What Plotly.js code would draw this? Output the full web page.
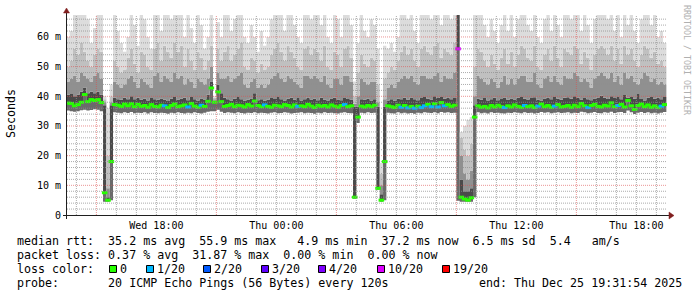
<!DOCTYPE html>
<html><head><meta charset="utf-8">
<script src="https://cdn.plot.ly/plotly-3.0.1.min.js"></script>
<style>html,body{margin:0;padding:0;background:#fff;}#chart{width:697px;height:297px;}</style>
</head><body><div id="chart"></div>
<script>
// ---- data: 10-minute bins starting Wed 2025-12-24 13:30 ----
const binMinutes = 10;
const rttMedian = [
37.7,37.6,36.8,37.2,38.0,40.6,38.2,38.9,38.6,38.9,
37.9,7.5,5.0,18.0,37.2,37.0,36.6,37.4,36.8,37.5,
36.5,37.3,36.6,36.9,36.3,37.2,36.6,36.4,37.0,36.8,
36.2,36.9,37.4,36.5,36.8,37.1,36.4,37.6,36.7,36.3,
37.0,36.6,38.3,42.8,38.0,41.5,38.2,36.6,36.9,37.3,
36.5,37.0,36.8,36.4,37.2,36.7,38.4,36.9,36.5,37.1,
36.6,36.3,37.0,36.8,36.5,37.2,36.9,36.4,37.1,36.6,
36.8,36.5,37.3,36.7,36.2,37.0,36.6,36.9,36.4,37.1,
36.7,36.3,36.9,37.2,36.5,36.8,6.0,33.0,36.7,36.4,
36.9,36.5,37.0,9.0,5.0,18.0,36.8,36.5,36.2,37.0,
36.3,36.9,36.1,36.6,36.0,36.7,36.2,36.8,37.3,36.5,
37.5,36.4,37.9,36.8,37.2,36.6,37.0,56.0,6.0,5.4,
5.0,5.8,33.0,36.8,36.3,36.6,36.1,36.9,36.4,37.0,
36.5,36.2,36.8,36.4,37.1,36.6,36.3,36.9,36.5,36.8,
36.2,36.7,37.4,36.5,36.9,36.3,36.7,37.2,36.4,36.6,
36.9,36.3,37.0,36.5,37.6,36.8,36.2,36.9,37.3,36.6,
36.4,37.0,36.7,37.8,36.5,36.9,37.3,36.4,38.6,36.8,
35.6,36.9,37.4,36.5,37.1,36.3,36.8,36.2,36.7,37.2];
const lossCount = [
0,0,0,0,0,0,0,0,0,0, 0,0,0,0,0,0,0,0,0,0, 0,0,0,0,0,0,0,0,0,1,
0,0,0,0,0,0,1,0,0,0, 1,0,0,0,0,0,0,0,0,0, 0,0,0,0,0,0,0,0,0,1,
0,0,0,0,0,0,0,0,0,1, 0,0,0,0,0,0,0,0,0,0, 0,0,0,1,0,0,0,0,0,0,
0,0,0,0,0,0,0,0,0,0, 1,0,1,0,1,0,1,1,0,1, 0,1,0,1,0,0,0,10,0,0,
0,0,0,0,0,0,0,0,0,0, 0,1,0,0,0,0,0,1,0,0, 0,1,0,0,0,0,1,0,0,0,
0,0,0,0,0,0,1,0,0,0, 0,0,0,0,0,1,0,0,0,0, 0,0,0,0,0,0,0,0,1,0];
const rttMin = [
35.2,35.0,34.8,35.0,35.3,35.5,35.2,35.4,35.6,35.5,
35.0,4.5,4.5,5.0,34.6,34.5,34.3,34.6,34.4,34.7,
34.3,34.5,34.4,34.6,34.2,34.6,34.4,34.3,34.5,34.4,
34.1,34.5,34.3,34.6,34.4,34.2,34.5,34.3,34.6,34.4,
34.2,34.5,34.8,35.0,35.0,35.5,34.8,34.4,34.6,34.5,
34.3,34.6,34.4,34.2,34.5,34.4,34.6,34.3,34.5,34.4,
34.2,34.5,34.6,34.3,34.4,34.6,34.5,34.2,34.4,34.5,
34.6,34.3,34.5,34.4,34.1,34.5,34.3,34.6,34.4,34.5,
34.3,34.2,34.5,34.6,34.4,34.3,5.5,31.0,34.5,34.3,
34.6,34.4,34.5,8.5,4.5,5.0,34.5,34.3,34.2,34.6,
34.3,34.5,34.2,34.4,34.1,34.5,34.3,34.6,34.5,34.4,
34.6,34.3,34.7,34.5,34.6,34.4,34.5,4.8,4.5,4.5,
4.5,4.5,6.0,34.6,34.3,34.5,34.2,34.6,34.4,34.5,
34.3,34.2,34.5,34.4,34.6,34.5,34.3,34.6,34.4,34.5,
34.2,34.4,34.7,34.5,34.6,34.3,34.5,34.6,34.4,34.5,
34.6,34.3,34.5,34.4,34.8,34.6,34.3,34.5,34.7,34.4,
34.3,34.6,34.5,34.8,34.4,34.6,34.7,34.4,35.2,34.6,
34.0,34.5,34.7,34.4,34.6,34.3,34.5,34.2,34.5,34.7];
const rttUpper1 = [
40.5,40.8,40.0,40.5,41.5,43.0,41.0,41.5,41.0,41.5,
40.5,37.0,6.0,37.0,39.5,39.0,38.8,39.5,39.0,40.0,
39.0,39.5,38.8,39.2,38.6,39.4,39.0,38.8,39.3,38.8,
38.4,39.2,39.8,38.8,39.2,39.5,38.7,39.8,39.0,38.6,
39.3,38.9,40.5,45.0,38.5,44.0,41.0,39.5,39.0,38.6,
39.2,39.8,39.0,38.5,38.8,39.3,41.0,38.7,39.0,38.5,
38.8,39.4,39.1,39.8,39.0,38.6,39.2,39.5,38.8,39.4,
38.6,39.0,39.6,38.9,39.2,38.7,39.5,38.8,38.6,39.3,
39.5,38.9,38.7,39.4,39.1,38.8,36.5,36.5,39.0,38.8,
39.2,38.6,39.0,36.5,7.0,36.5,38.6,39.0,38.5,39.2,
39.0,39.5,38.8,39.6,39.0,38.7,39.4,39.8,39.2,38.9,
40.0,39.4,39.8,39.2,39.6,39.0,39.4,68.0,12.0,8.0,
8.0,9.0,37.0,39.2,38.8,39.4,38.6,39.0,39.5,38.7,
39.1,39.6,38.8,39.3,38.9,39.5,39.8,39.2,38.9,39.4,
39.7,38.8,38.6,39.3,39.6,39.0,39.8,39.2,38.8,39.5,
39.7,39.2,40.0,39.6,38.9,39.4,39.0,38.7,39.3,39.6,
40.2,39.5,39.1,40.0,39.4,39.8,39.0,40.4,39.5,39.8,
39.2,40.8,39.1,38.6,39.5,39.8,39.2,39.6,39.0,39.8];
const rttUpper2 = [
45,46,47,45,48,47,46,45,47,48,
46,38,9,38,45,44,43,44,46,47,
45,43,46,45,44,43,47,48,45,47,
46,45,48,46,47,44,46,45,43,46,
45,44,46,50,39,48,46,46,47,45,
46,47,48,44,43,45,46,43,44,43,
44,46,47,48,46,45,47,46,45,44,
43,47,47,46,47,46,45,47,44,43,
46,46,44,47,47,45,37.5,40,46,45,
44,45,45,38,10,39,43,44,43,45,
46,47,46,47,45,44,47,47,46,46,
47,48,45,47,46,46,48,68,20,14,
12,15,40,47,46,45,44,46,45,43,
45,47,44,46,44,46,47,47,45,45,
48,44,43,46,47,45,47,45,44,47,
46,46,48,47,45,46,45,43,46,47,
48,47,46,48,45,47,44,48,46,47,
45,44,46,48,47,45,46,44,45,44];
const rttUpper3 = [
50,52,56,54,58,55,52,50,54,56,
55,39,20,40,52,50,48,49,53,56,
51,48,55,54,50,49,56,58,52,57,
55,53,58,55,57,50,56,52,49,55,
53,49,52,57,39.5,56,52,55,57,52,
54,56,58,50,49,53,52,48,51,49,
50,54,56,58,55,52,57,55,53,50,
49,56,57,54,56,55,52,57,50,49,
55,54,50,56,57,53,40,48,54,51,
50,53,52,44,14,46,48,50,49,52,
55,57,54,56,52,50,56,57,55,54,
57,58,53,56,55,54,58,68,26,22,
20,24,50,56,55,52,50,54,51,49,
53,56,51,55,50,54,57,56,53,52,
57,50,49,54,56,52,57,53,50,56,
55,54,57,56,51,55,53,49,54,56,
57,56,54,57,52,56,51,57,54,56,
52,50,54,57,56,53,55,51,52,50];
const rttMax = [
60,62,68,68,68,68,66,58,63,68,
68,40,36,44,68,62,58,55,60,68,
64,57,68,66,60,56,68,68,62,68,
68,66,68,68,68,60,68,63,58,68,
64,56,60,68,40,65,60,68,68,62,
66,68,68,60,58,64,60,55,62,57,
60,66,68,68,68,62,68,68,64,60,
58,68,68,66,68,68,64,68,60,58,
68,66,60,68,68,64,45,58,68,62,
60,66,64,56,17.5,57,56,58,55,60,
68,68,66,68,62,58,68,68,68,66,
68,68,64,68,68,66,68,68,28,30,
32,33,68,68,68,64,60,66,62,58,
64,68,62,68,60,66,68,68,64,62,
68,60,58,66,68,62,68,64,60,68,
68,66,68,68,62,68,64,58,66,68,
68,68,66,68,62,68,60,68,64,68,
62,58,66,68,68,64,68,60,62,58];

const yTickVals = [0,10,20,30,40,50,60];
const yTickText = ['0','10 m','20 m','30 m','40 m','50 m','60 m'];
const xTickVals = ['2025-12-24 18:00','2025-12-25 00:00','2025-12-25 06:00','2025-12-25 12:00','2025-12-25 18:00'];
const xTickText = ['Wed 18:00','Thu 00:00','Thu 06:00','Thu 12:00','Thu 18:00'];
const lossLevels = [0,1,2,3,4,10,19];
const lossLabels = ['0','1/20','2/20','3/20','4/20','10/20','19/20'];
const lossColors = ['#26ff00','#00b8ff','#0059ff','#5e00ff','#7e00ff','#dd00ff','#ff0000'];
const legendMedian = 'median rtt:  35.2 ms avg  55.9 ms max   4.9 ms min  37.2 ms now  6.5 ms sd  5.4   am/s';
const legendLoss = 'packet loss: 0.37 % avg  31.87 % max  0.00 % min  0.00 % now';
const legendProbe = 'probe:       20 ICMP Echo Pings (56 Bytes) every 120s';
const legendEnd = 'end: Thu Dec 25 19:31:54 2025';

// ---- build ----
const MONO = 'DejaVu Sans Mono';
const T0 = Date.UTC(2025,11,24,13,30,0);
const fmt = ms => new Date(ms).toISOString().slice(0,19).replace('T',' ');
const n = rttMedian.length;
const edges = []; for (let i=0;i<=n;i++) edges.push(fmt(T0 + i*binMinutes*60000));
const centers = rttMedian.map((_,i)=>fmt(T0 + (i+0.5)*binMinutes*60000));
const ext = a => a.concat([a[a.length-1]]);

const layers = [
  [rttMin, null],
  [rttMedian, '#6a6a6a'],
  [rttUpper1, '#4a4a4a'],
  [rttUpper2, '#909090'],
  [rttUpper3, '#c0c0c0'],
  [rttMax, '#dcdcdc']
];
const data = layers.map(([arr,col]) => ({
  type:'scatter', mode:'lines', x: edges, y: ext(arr),
  line:{width:0, shape:'hv'}, fill: col ? 'tonexty' : 'none',
  fillcolor: col || 'rgba(0,0,0,0)', hoverinfo:'skip', showlegend:false
}));
const medColors = lossCount.map(l => lossColors[lossLevels.indexOf(l)]);
data.push({type:'scatter', mode:'markers', x: centers, y: rttMedian,
  marker:{symbol:'line-ew', size:4, color:medColors, line:{width:3, color:medColors}},
  hoverinfo:'skip', showlegend:false});

const PX = px => (px-67)/600, PY = py => (215-py)/200;
const shapes = [];
const gridMinor = 'rgba(143,143,143,0.75)', gridMajor = 'rgba(222,79,79,0.6)';
for (let v=2; v<=66; v+=2) if (v%10) shapes.push({type:'line', xref:'paper', yref:'y', x0:0, x1:1, y0:v, y1:v, layer:'above', line:{color:gridMinor, width:1, dash:'1px,1px'}});
const H0 = Date.UTC(2025,11,24,14,0,0);
for (let h=0; h<30; h++) { const t = H0 + h*3600000; const hr = new Date(t).getUTCHours();
  if (hr%6!==3) shapes.push({type:'line', xref:'x', yref:'paper', x0:fmt(t), x1:fmt(t), y0:0, y1:1, layer:'above', line:{color:gridMinor, width:1, dash:'1px,1px'}}); }
for (let v=10; v<=60; v+=10) shapes.push({type:'line', xref:'paper', yref:'y', x0:0, x1:1, y0:v, y1:v, layer:'above', line:{color:gridMajor, width:1, dash:'1px,1px'}});
for (let h=0; h<30; h++) { const t = H0 + h*3600000; const hr = new Date(t).getUTCHours();
  if (hr%6===3) shapes.push({type:'line', xref:'x', yref:'paper', x0:fmt(t), x1:fmt(t), y0:0, y1:1, layer:'above', line:{color:gridMajor, width:1, dash:'1px,1px'}}); }
const axisCol = 'rgb(31,31,31)', arrowCol = 'rgb(128,31,31)';
shapes.push({type:'line', xref:'paper', yref:'paper', x0:PX(63), x1:PX(670), y0:PY(215.5), y1:PY(215.5), layer:'above', line:{color:axisCol, width:1}});
shapes.push({type:'line', xref:'paper', yref:'paper', x0:PX(66.5), x1:PX(66.5), y0:PY(219), y1:PY(12), layer:'above', line:{color:axisCol, width:1}});
shapes.push({type:'path', xref:'paper', yref:'paper', layer:'above', path:`M ${PX(669)} ${PY(212)} L ${PX(674)} ${PY(215.5)} L ${PX(669)} ${PY(219)} Z`, fillcolor:arrowCol, line:{color:arrowCol, width:0.5}});
shapes.push({type:'path', xref:'paper', yref:'paper', layer:'above', path:`M ${PX(63.5)} ${PY(13)} L ${PX(66.5)} ${PY(8)} L ${PX(69.5)} ${PY(13)} Z`, fillcolor:arrowCol, line:{color:arrowCol, width:0.5}});

const nb = s => s.replace(/ /g,'\u00a0');
const ann = (text, px, py, o) => Object.assign({text:nb(text), x:PX(px), y:PY(py), xref:'paper', yref:'paper', showarrow:false, xanchor:'left', yanchor:'middle', borderpad:0, font:{family:MONO, size:11.65, color:'#000'}}, o||{});
const annotations = [
  ann(legendMedian, 16, 241),
  ann(legendLoss, 16, 255),
  ann('loss color:', 16, 269),
  ann(legendProbe, 16, 283),
  ann(legendEnd, 478, 283),
  ann('Seconds', 11, 114, {xanchor:'center', textangle:-90}),
  ann('RRDTOOL / TOBI OETIKER', 687, 60, {xanchor:'center', textangle:90, font:{family:MONO, size:8.3, color:'#b0b0b0'}})
];
const boxX = [109,146,203,261,318,377,442];
lossLabels.forEach((lab,k) => {
  shapes.push({type:'rect', xref:'paper', yref:'paper', x0:PX(boxX[k]+0.5), x1:PX(boxX[k]+7.5), y0:PY(265.5), y1:PY(272.5), fillcolor:lossColors[k], line:{color:'#000', width:1}, layer:'above'});
  annotations.push(ann(lab, boxX[k]+9.5, 269));
});

const layout = {
  width:697, height:297, margin:{l:67, r:30, t:15, b:82, pad:0},
  paper_bgcolor:'#fff', plot_bgcolor:'#fff', showlegend:false,
  xaxis:{type:'date', range:['2025-12-24 13:31:54','2025-12-25 19:31:54'], showgrid:false, zeroline:false, showline:false,
    tickmode:'array', tickvals:xTickVals, ticktext:xTickText, ticks:'', ticklabelstandoff:3, tickfont:{family:MONO, size:10, color:'#000'}},
  yaxis:{range:[0,67.4], showgrid:false, zeroline:false, showline:false, tickmode:'array', tickvals:yTickVals, ticktext:yTickText,
    ticks:'', ticklabelstandoff:5, tickfont:{family:MONO, size:10, color:'#000'}},
  shapes, annotations
};
Plotly.newPlot('chart', data, layout, {staticPlot:true, displayModeBar:false});
</script></body></html>
